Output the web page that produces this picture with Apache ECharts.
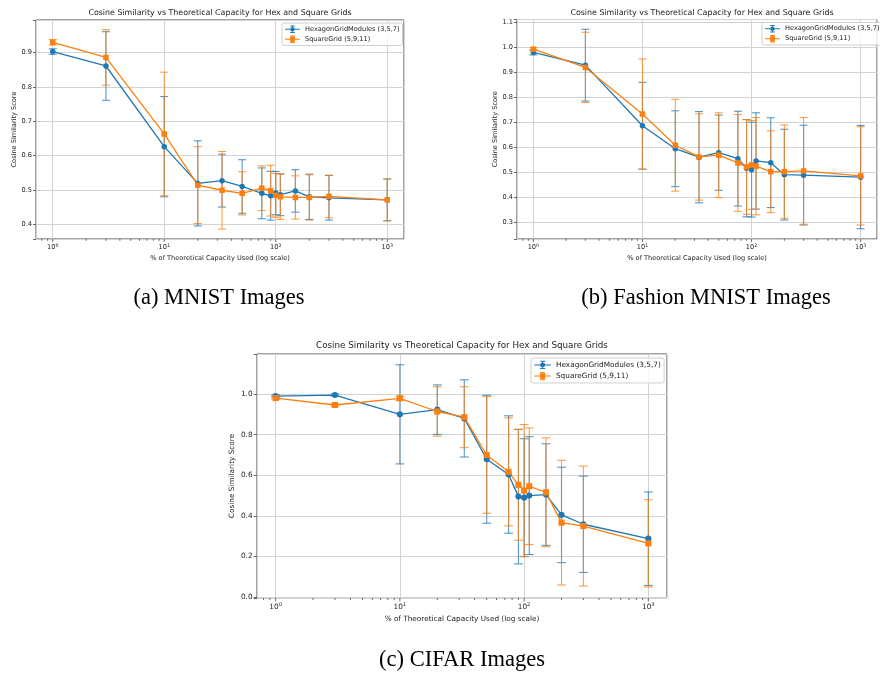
<!DOCTYPE html>
<html>
<head>
<meta charset="utf-8">
<script src="https://cdn.jsdelivr.net/npm/echarts@6/dist/echarts.min.js"></script>
<style>
html, body { margin: 0; padding: 0; background: #fff; }
#chart { width: 880px; height: 675px; }
</style>
</head>
<body>
<div id="chart"></div>
<script>
// % of theoretical capacity used, same for every panel
const capacity = [1, 3, 10, 20, 33, 50, 75, 90, 100, 110, 150, 200, 300, 1000];

// (a) MNIST
const mnistHexMean = [0.903, 0.861, 0.626, 0.519, 0.527, 0.510, 0.490, 0.483, 0.491, 0.486, 0.497, 0.480, 0.477, 0.471];
const mnistHexErr  = [0.008, 0.100, 0.146, 0.124, 0.077, 0.078, 0.074, 0.071, 0.063, 0.061, 0.062, 0.066, 0.065, 0.061];
const mnistSqMean  = [0.930, 0.886, 0.663, 0.514, 0.499, 0.490, 0.505, 0.498, 0.484, 0.480, 0.478, 0.478, 0.481, 0.471];
const mnistSqErr   = [0.008, 0.081, 0.180, 0.112, 0.113, 0.063, 0.065, 0.074, 0.064, 0.066, 0.063, 0.066, 0.062, 0.061];

// (b) Fashion MNIST
const fashionHexMean = [0.979, 0.928, 0.685, 0.593, 0.559, 0.577, 0.553, 0.515, 0.509, 0.544, 0.537, 0.489, 0.487, 0.479];
const fashionHexErr  = [0.010, 0.144, 0.174, 0.152, 0.183, 0.151, 0.190, 0.195, 0.190, 0.193, 0.180, 0.182, 0.200, 0.207];
const fashionSqMean  = [0.992, 0.919, 0.732, 0.607, 0.560, 0.567, 0.536, 0.520, 0.528, 0.523, 0.501, 0.501, 0.504, 0.484];
const fashionSqErr   = [0.006, 0.141, 0.221, 0.184, 0.173, 0.170, 0.194, 0.190, 0.178, 0.195, 0.164, 0.187, 0.214, 0.197];

// (c) CIFAR
const cifarHexMean = [0.990, 0.995, 0.900, 0.923, 0.880, 0.679, 0.604, 0.495, 0.490, 0.500, 0.505, 0.405, 0.359, 0.288];
const cifarHexErr  = [0.005, 0.005, 0.244, 0.122, 0.190, 0.315, 0.289, 0.331, 0.290, 0.290, 0.250, 0.235, 0.237, 0.230];
const cifarSqMean  = [0.980, 0.946, 0.979, 0.914, 0.886, 0.700, 0.617, 0.553, 0.525, 0.546, 0.516, 0.367, 0.350, 0.265];
const cifarSqErr   = [0.006, 0.006, 0.010, 0.122, 0.150, 0.287, 0.266, 0.273, 0.325, 0.287, 0.268, 0.307, 0.295, 0.215];

// decade ticks and log minor ticks of the x axis
const majorTicks = [1, 10, 100, 1000];
const minorTicks = [0.8, 0.9, 2, 3, 4, 5, 6, 7, 8, 9, 20, 30, 40, 50, 60, 70, 80, 90,
  200, 300, 400, 500, 600, 700, 800, 900];

const HEX = 'HexagonGridModules (3,5,7)';
const SQ = 'SquareGrid (5,9,11)';
const TITLE = 'Cosine Similarity vs Theoretical Capacity for Hex and Square Grids';
const BLUE = '#1f77b4';
const ORANGE = '#ff7f0e';
const FONT = 'DejaVu Sans';

const panels = [
  { grid: { left: 36, top: 20, width: 368, height: 219 }, yMin: 0.357, yMax: 0.995, split: 6, step: 0.1,
    hex: [mnistHexMean, mnistHexErr], sq: [mnistSqMean, mnistSqErr],
    title: [220, 12.5], legend: [282, 23], caption: ['(a) MNIST Images', 219, 298], s: 1 },
  { grid: { left: 517, top: 19.5, width: 370, height: 219.5 }, yMin: 0.231, yMax: 1.111, split: 8, step: 0.1,
    hex: [fashionHexMean, fashionHexErr], sq: [fashionSqMean, fashionSqErr],
    title: [702, 12.7], legend: [762, 22.5], caption: ['(b) Fashion MNIST Images', 706, 298], s: 1 },
  { grid: { left: 257, top: 354, width: 410, height: 244 }, yMin: -0.004, yMax: 1.197, split: 5, step: 0.2,
    hex: [cifarHexMean, cifarHexErr], sq: [cifarSqMean, cifarSqErr],
    title: [462, 346], legend: [531, 358], caption: ['(c) CIFAR Images', 462, 660], s: 1.11 }
];

// legend handle: line + errorbar with caps + marker
const barPath = 'M0 4.4H20V5.6H0Z M9.4 0H10.6V10H9.4Z M7 0H13V1.2H7Z M7 8.8H13V10H7Z';
const hexIcon = 'path://' + barPath + ' M13 5A3 3 0 1 1 7 5A3 3 0 1 1 13 5Z';
const sqIcon = 'path://' + barPath + ' M6.8 1.8H13.2V8.2H6.8Z';

function errorBars(color, cap) {
  return function (params, api) {
    const x = api.value(0);
    const lo = api.coord([x, api.value(1)]);
    const hi = api.coord([x, api.value(2)]);
    const style = { stroke: color, lineWidth: 1.1, opacity: 0.75 };
    return {
      type: 'group',
      children: [
        { type: 'line', shape: { x1: lo[0], y1: lo[1], x2: hi[0], y2: hi[1] }, style: style },
        { type: 'line', shape: { x1: lo[0] - cap, y1: lo[1], x2: lo[0] + cap, y2: lo[1] }, style: style },
        { type: 'line', shape: { x1: hi[0] - cap, y1: hi[1], x2: hi[0] + cap, y2: hi[1] }, style: style }
      ]
    };
  };
}

function xTicks(yMin, len) {
  return function (params, api) {
    const p = api.coord([api.value(0), yMin]);
    return {
      type: 'line',
      shape: { x1: p[0], y1: p[1], x2: p[0], y2: p[1] + len },
      style: { stroke: '#444', lineWidth: 0.8 }
    };
  };
}

const grids = [], xAxes = [], yAxes = [], series = [], legends = [], graphics = [];

panels.forEach((p, i) => {
  const s = p.s;
  const fs = 6.6 * s;
  grids.push(Object.assign({ show: true, borderColor: '#444', borderWidth: 1, backgroundColor: 'transparent' }, p.grid));

  xAxes.push({
    type: 'log', gridIndex: i, min: 0.708, max: 1413,
    name: '% of Theoretical Capacity Used (log scale)',
    nameLocation: 'middle', nameGap: 15.5 * s,
    nameTextStyle: { fontSize: fs, fontFamily: FONT, color: '#222' },
    axisLine: { show: false },
    axisTick: { show: false },
    splitLine: { show: true, lineStyle: { color: '#d3d3d3', width: 1 } },
    axisLabel: {
      fontSize: fs, fontFamily: FONT, color: '#222', margin: 4 * s,
      formatter: function (v) {
        const e = Math.log10(v);
        return Math.abs(e - Math.round(e)) < 1e-6 ? '10{s|' + Math.round(e) + '}' : '';
      },
      rich: { s: { fontSize: 4.7 * s, fontFamily: FONT, color: '#222', padding: [0, 0, 4 * s, 0] } }
    }
  });

  yAxes.push({
    type: 'value', gridIndex: i, min: p.yMin, max: p.yMax, splitNumber: p.split,
    name: 'Cosine Similarity Score',
    nameLocation: 'middle', nameGap: (i === 2 ? 19 : 17.5) * s,
    nameTextStyle: { fontSize: fs, fontFamily: FONT, color: '#222' },
    axisLine: { show: false },
    axisTick: { show: true, length: 3 * s, lineStyle: { color: '#444', width: 0.8 } },
    splitLine: { show: true, lineStyle: { color: '#d3d3d3', width: 1 } },
    axisLabel: {
      fontSize: fs, fontFamily: FONT, color: '#222', margin: 4 * s,
      formatter: function (v) {
        const k = v / p.step;
        return Math.abs(k - Math.round(k)) < 1e-6 ? v.toFixed(1) : '';
      }
    }
  });

  const groups = [[HEX, BLUE, 'circle', p.hex], [SQ, ORANGE, 'rect', p.sq]];
  groups.forEach(([name, color, symbol, [mean, err]]) => {
    series.push({
      type: 'custom', xAxisIndex: i, yAxisIndex: i, silent: true, z: 2,
      renderItem: errorBars(color, 4 * s),
      encode: { x: 0, y: [1, 2] },
      data: capacity.map((c, k) => [c, mean[k] - err[k], mean[k] + err[k]])
    });
    series.push({
      type: 'line', name: name, xAxisIndex: i, yAxisIndex: i, z: 3,
      symbol: symbol, symbolSize: 5.5 * s, showSymbol: true,
      lineStyle: { color: color, width: 1.3 },
      itemStyle: { color: color },
      data: capacity.map((c, k) => [c, mean[k]])
    });
  });

  series.push({
    type: 'custom', xAxisIndex: i, yAxisIndex: i, silent: true, clip: false,
    renderItem: xTicks(p.yMin, 3 * s), encode: { x: 0 },
    data: majorTicks.map(v => [v])
  });
  series.push({
    type: 'custom', xAxisIndex: i, yAxisIndex: i, silent: true, clip: false,
    renderItem: xTicks(p.yMin, 1.8 * s), encode: { x: 0 },
    data: minorTicks.map(v => [v])
  });

  legends.push({
    left: p.legend[0], top: p.legend[1], orient: 'vertical', selectedMode: false,
    data: [{ name: HEX, icon: hexIcon }, { name: SQ, icon: sqIcon }],
    itemWidth: 15 * s, itemHeight: 7.5 * s, itemGap: 2.5 * s,
    padding: [2.5 * s, 3 * s, 2.5 * s, 3 * s],
    backgroundColor: 'rgba(255,255,255,0.8)', borderColor: '#d0d0d0', borderWidth: 1, borderRadius: 2,
    textStyle: { fontSize: fs, fontFamily: FONT, color: '#222' }
  });

  graphics.push({
    type: 'text', x: p.title[0], y: p.title[1],
    style: { text: TITLE, fontSize: 7.9 * s, fontFamily: FONT, fill: '#222', align: 'center', verticalAlign: 'middle' }
  });
  graphics.push({
    type: 'text', x: p.caption[1], y: p.caption[2],
    style: { text: p.caption[0], fontSize: 22.5, fontFamily: 'Liberation Serif', fill: '#000', align: 'center', verticalAlign: 'middle' }
  });
});

const chart = echarts.init(document.getElementById('chart'));
chart.setOption({
  animation: false,
  backgroundColor: '#fff',
  grid: grids,
  xAxis: xAxes,
  yAxis: yAxes,
  legend: legends,
  graphic: graphics,
  series: series
});
</script>
</body>
</html>
